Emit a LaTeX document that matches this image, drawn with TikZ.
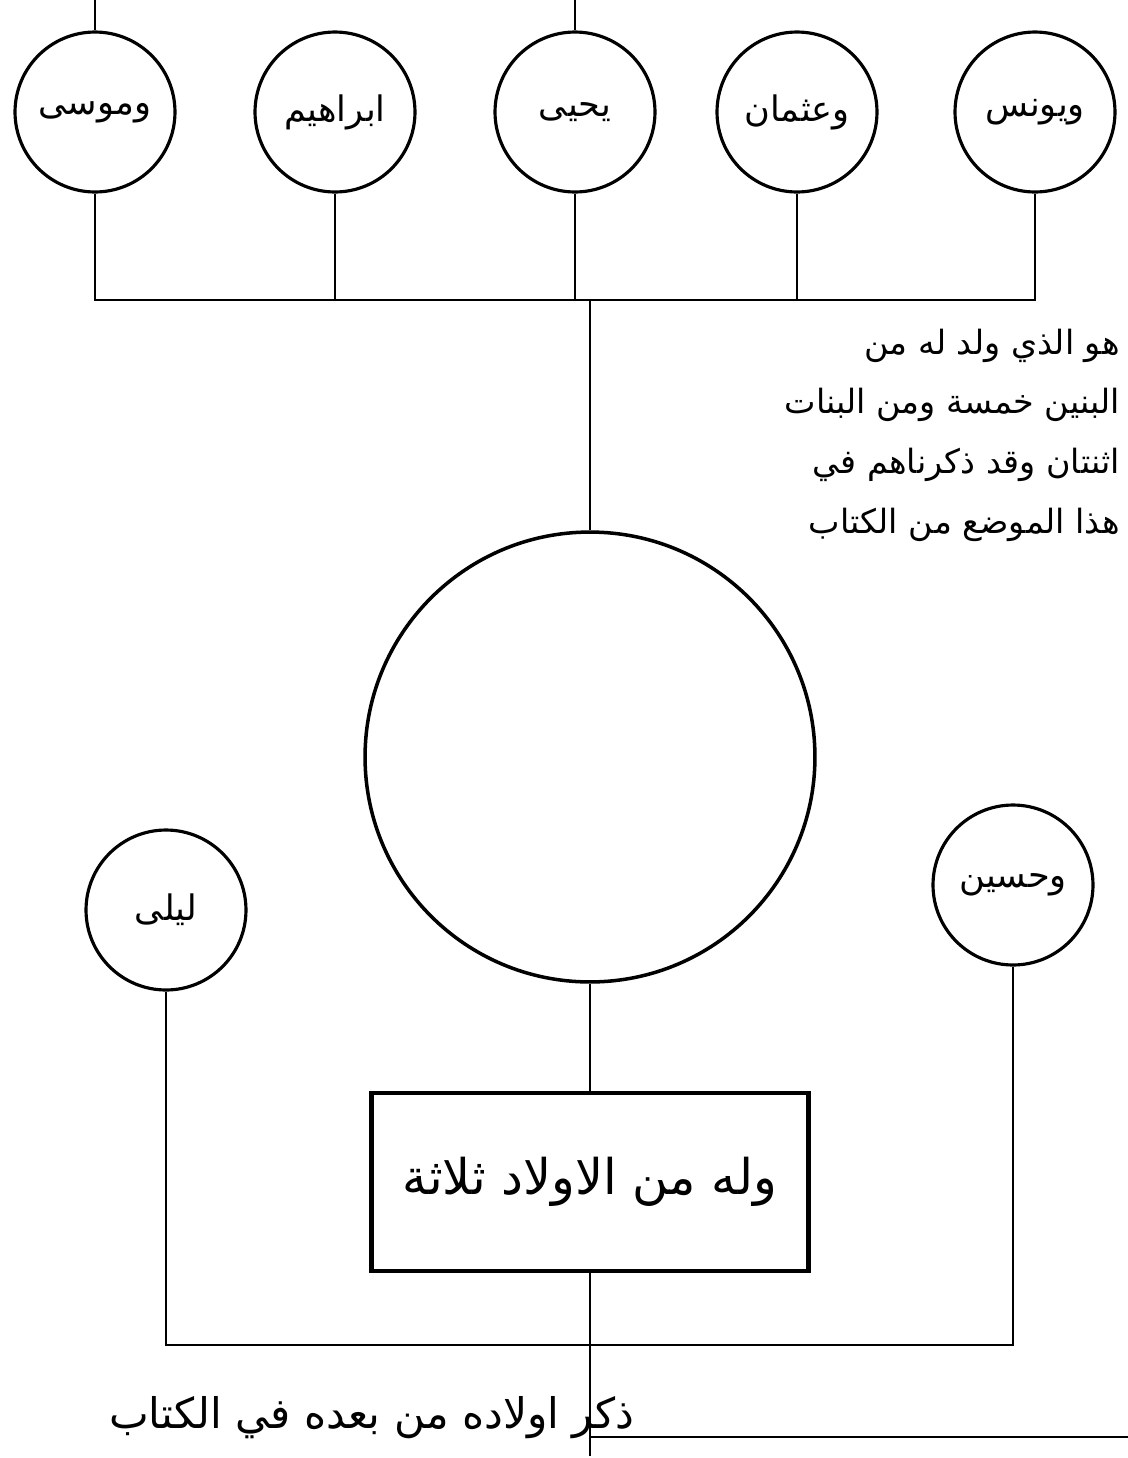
\documentclass[tikz,border=0pt]{standalone}
\usepackage{fontspec}
\newfontfamily\arabicfont[Script=Arabic]{DejaVu Sans}
\TeXXeTstate=1
\usepackage{tikz}
\usetikzlibrary{positioning}
\newcommand{\artext}[1]{\arabicfont\beginR #1\endR}

\begin{document}
\begin{tikzpicture}[x=0.02cm,y=-0.02cm,
    namecirc/.style={draw,circle,line width=1.8pt,minimum size=3.2cm,inner sep=0pt,font=\fontsize{20}{24}\selectfont},
    link/.style={line width=1.6pt}]
  \useasboundingbox (0,0) rectangle (1128,1458);
  % top row
  \node[namecirc] (musa) at (95,112) {\artext{وموسى}};
  \node[namecirc] (ibrahim) at (335,112) {\artext{ابراهيم}};
  \node[namecirc] (yahya) at (575,112) {\artext{يحيى}};
  \node[namecirc] (uthman) at (797,112) {\artext{وعثمان}};
  \node[namecirc] (yunus) at (1035,112) {\artext{ويونس}};
  \coordinate (topbar) at (590,300);
  \draw[link] (musa.north) -- (musa.north |- 0,0);
  \draw[link] (yahya.north) -- (yahya.north |- 0,0);
  \draw[link] (musa.south) -- (musa.south |- topbar) -- (yunus.south |- topbar) -- (yunus.south);
  \foreach \n in {ibrahim,yahya,uthman}
    \draw[link] (\n.south) -- (\n.south |- topbar);
  % centre
  \node[draw,circle,line width=2pt,minimum size=9cm,inner sep=0pt] (centre) at (590,757) {};
  \draw[link] (topbar) -- (centre.north);
  \node[font=\fontsize{19}{34}\selectfont,align=right,anchor=east] (note) at (1126,435)
    {\artext{هو الذي ولد له من}\\ \artext{البنين خمسة ومن البنات}\\ \artext{اثنتان وقد ذكرناهم في}\\ \artext{هذا الموضع من الكتاب}};
  % lower row
  \node[namecirc] (layla) at (166,910) {\artext{ليلى}};
  \node[namecirc] (husayn) at (1013,885) {\artext{وحسين}};
  \node[draw,rectangle,line width=2.6pt,minimum width=8.74cm,minimum height=3.56cm,inner sep=0pt,
        font=\fontsize{28}{32}\selectfont] (issue) at (590,1182) {\artext{وله من الاولاد ثلاثة}};
  \coordinate (lowbar) at (590,1345);
  \coordinate (dropend) at (590,1456);
  \coordinate (tailend) at (1128,1437);
  \draw[link] (centre.south) -- (issue.north);
  \draw[link] (issue.south) -- (dropend);
  \draw[link] (layla.south) -- (layla.south |- lowbar) -- (husayn.south |- lowbar) -- (husayn.south);
  \node[font=\fontsize{24}{28}\selectfont] (foot) at (372,1418) {\artext{ذكر اولاده من بعده في الكتاب}};
  \draw[link] (dropend |- tailend) -- (tailend);
\end{tikzpicture}
\end{document}
